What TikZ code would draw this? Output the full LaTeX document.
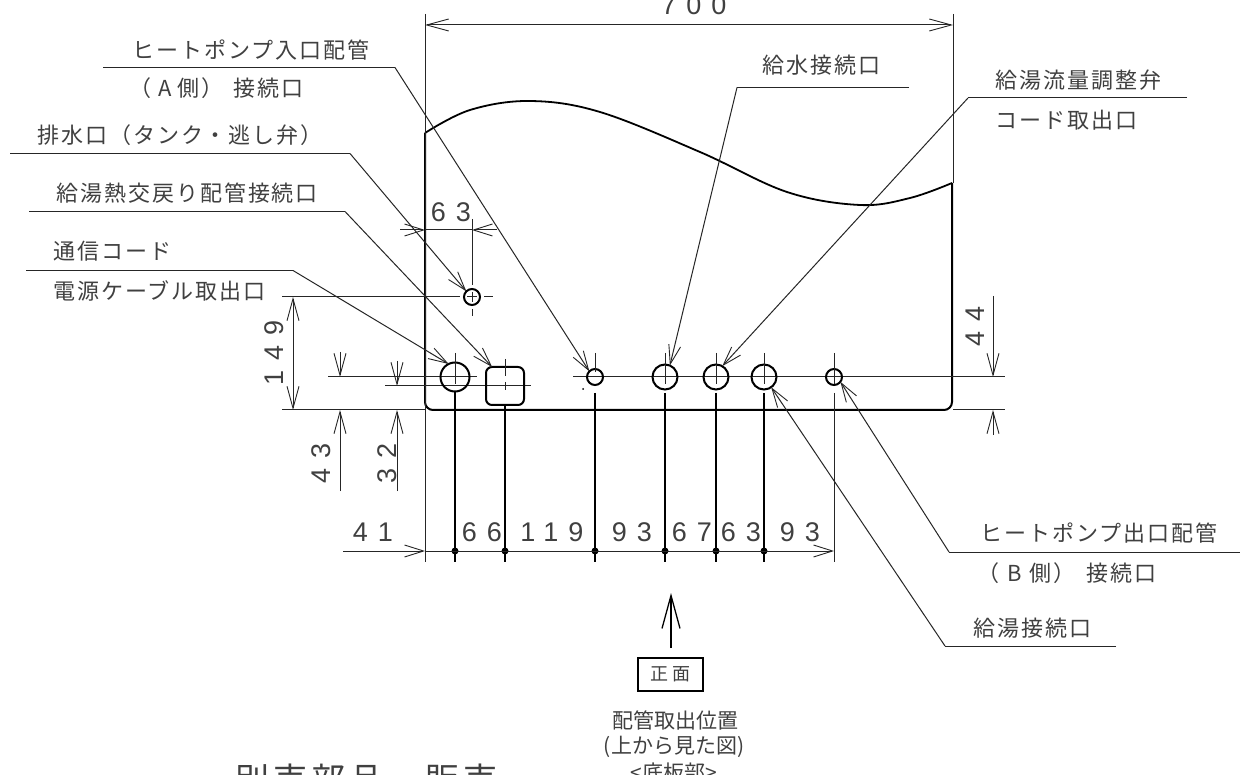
\documentclass[tikz,border=0pt]{standalone}
\usepackage{fontspec}
\usetikzlibrary{arrows.meta}
\newfontfamily\jpfont[LetterSpace=9]{Noto Sans CJK JP}
\newfontfamily\jpplain{Noto Sans CJK JP}
\newfontfamily\jpwide[LetterSpace=12]{Noto Sans CJK JP}
\newfontfamily\dgfont[LetterSpace=37]{Liberation Sans}
\tikzset{
  thin line/.style={line width=1pt,draw=black!85},
  outline/.style={line width=2pt,draw=black},
  leadtip/.style={-{Straight Barb[length=19pt,width=12pt,line width=.9pt]}},
  dimtip/.style={{Straight Barb[length=22pt,width=12pt,line width=.9pt]}-{Straight Barb[length=22pt,width=12pt,line width=.9pt]}},
  jplabel/.style={anchor=mid west,yshift=-6pt,inner sep=0pt,text=black!75,font=\jpfont\fontsize{22}{24}\selectfont},
  num/.style={inner sep=0pt,text=black!75,font=\dgfont\fontsize{27}{27}\selectfont},
  captext/.style={inner sep=0pt,text=black!75,font=\jpplain\fontsize{21}{22}\selectfont},
  hole/.style={circle,outline,inner sep=0pt,outer sep=0pt,minimum size=#1},
  hdot/.style={circle,fill=black,inner sep=0pt,minimum size=7pt}
}
\begin{document}
\begin{tikzpicture}[x=1pt,y=-1pt]
\path[use as bounding box,fill=white] (0,0) rectangle (1240,775);
\clip (0,0) rectangle (1240,775);
% body outline
\draw[outline,rounded corners=8pt] (425,133) -- (425,410) -- (952,410) -- (952,183);
\draw[line width=1.8pt] plot[smooth,tension=.6] coordinates {(425,133) (470,110) (530,101) (600,112) (700,152) (787,192) (860,205) (910,198) (952,183)};
% extension lines
\draw[thin line] (425,14) -- (425,562);
\draw[thin line] (953,14) -- (953,183);
\draw[thin line] (282,297) -- (460,297);
\draw[thin line] (282,410) -- (425,410);
\draw[thin line] (953,410) -- (1005,410);
\draw[thin line] (328,377) -- (477,377);
\draw[thin line] (385,386) -- (531,386);
\draw[thin line] (573,377) -- (1005,377);
% holes
\node[hole=16pt] (drain) at (472,297) {};
\node[hole=29pt] (cable) at (455,377) {};
\node[draw=black,line width=2pt,rounded corners=6pt,minimum size=38pt,inner sep=0pt,outer sep=0pt] (square) at (505,386) {};
\node[hole=16pt] (hpin) at (595,377) {};
\node[hole=25pt] (water) at (665,377) {};
\node[hole=25pt] (flow) at (716,377) {};
\node[hole=25pt] (hot) at (764,377) {};
\node[hole=16pt] (hpout) at (834,377) {};
\fill (583,389) circle (1pt);
% centre marks
\draw[thin line] (467,297) -- (477,297) (472,292) -- (472,302) (484,297) -- (493,297);
\draw[thin line] (472,219) -- (472,285) (472,309) -- (472,316);
\draw[thin line] (505,359) -- (505,376) (501,386) -- (509,386) (505,382) -- (505,390);
\foreach \x/\a/\b in {455/353/384,595/353/372,665/353/384,716/353/384,764/353/384,834/353/384}
  \draw[thin line] (\x,\a) -- (\x,\b);
% drop lines and dots
\draw[thin line] (834,393) -- (834,562);
\foreach \n/\x/\y in {a/455/392,b/505/405,c/595/393,d/665/393,e/716/393,f/764/393}{
  \draw[line width=1.2pt] (\x,\y) -- (\x,562);
  \node[hdot] (d\n) at (\x,551) {};
}
% dimensions
\coordinate (l700) at (425,25); \coordinate (r700) at (953,25);
\draw[thin line,dimtip] (l700) -- (r700);
\coordinate (t149) at (293,297); \coordinate (b149) at (293,410);
\draw[thin line,dimtip] (t149) -- (b149);
\coordinate (a41) at (343,551); \coordinate (b41) at (425,551); \coordinate (c41) at (834,551);
\draw[thin line,leadtip] (a41) -- (b41);
\draw[thin line,leadtip] (b41) -- (c41);
\coordinate (a63) at (400,230); \coordinate (b63) at (425,230); \coordinate (c63) at (497,230); \coordinate (d63) at (472,230);
\draw[thin line,leadtip] (a63) -- (b63);
\draw[thin line,leadtip] (c63) -- (d63);
\draw[thin line] (b63) -- (d63);
\foreach \x/\ttop/\tipy/\low in {340/352/377/491,397/361/386/491,993/296/377/435}{
  \draw[thin line,-{Straight Barb[length=22pt,width=12pt,line width=.9pt]}] (\x,\ttop) -- (\x,\tipy);
  \draw[thin line,-{Straight Barb[length=22pt,width=12pt,line width=.9pt]}] (\x,\low) -- (\x,410);
}
\node[num] (n700) at (694,5) {700};
\node[num] (n63) at (451,212) {63};
\node[num,rotate=90] (n149) at (274,353) {149};
\node[num,rotate=90] (n43) at (321,463) {43};
\node[num,rotate=90] (n32) at (387,463) {32};
\node[num,rotate=90] (n44) at (975,326) {44};
\node[num] (n41) at (373,532) {41};
\node[num] (n66) at (482,532) {66};
\node[num] (n119) at (552,532) {119};
\node[num] (n93a) at (632,532) {93};
\node[num] (n67) at (692,532) {67};
\node[num] (n63b) at (741,532) {63};
\node[num] (n93b) at (800,532) {93};
% leaders
\coordinate (s1a) at (103,67.5); \coordinate (s1b) at (395,67.5);
\draw[thin line] (s1a) -- (s1b);
\draw[thin line,leadtip] (s1b) -- (hpin.135);
\coordinate (s2a) at (10,153.5); \coordinate (s2b) at (350,153.5);
\draw[thin line] (s2a) -- (s2b);
\draw[thin line,leadtip] (s2b) -- (drain.135);
\coordinate (s3a) at (29,211.5); \coordinate (s3b) at (345,211.5);
\draw[thin line] (s3a) -- (s3b);
\draw[thin line,leadtip] (s3b) -- (square.124);
\coordinate (s4a) at (26,270.5); \coordinate (s4b) at (293,270.5);
\draw[thin line] (s4a) -- (s4b);
\draw[thin line,leadtip] (s4b) -- (cable.116);
\coordinate (s5a) at (909,87.5); \coordinate (s5b) at (737,87.5);
\draw[thin line] (s5a) -- (s5b);
\draw[thin line,leadtip] (s5b) -- (water.67);
\coordinate (s6a) at (1187,98) ; \coordinate (s6b) at (968,98);
\draw[thin line] (s6a) -- (s6b);
\draw[thin line,leadtip] (s6b) -- (flow.60);
\coordinate (s7a) at (1240,552); \coordinate (s7b) at (949,552);
\draw[thin line] (s7a) -- (s7b);
\draw[thin line,leadtip] (s7b) -- (hpout.-37);
\coordinate (s8a) at (1116,646); \coordinate (s8b) at (945,646);
\draw[thin line] (s8a) -- (s8b);
\draw[thin line,leadtip] (s8b) -- (hot.-55);
% labels
\node[jplabel] (t1) at (132,50) {ヒートポンプ入口配管};
\node[jplabel] (t2) at (129,88) {（\hspace{7pt}A\hspace{6pt}側）\hspace{10pt}接続口};
\node[jplabel] (t3) at (37,135) {排水口（タンク・逃し弁）};
\node[jplabel] (t4) at (56,193) {給湯熱交戻り配管接続口};
\node[jplabel] (t5) at (53,251) {通信コード};
\node[jplabel] (t6) at (53,291) {電源ケーブル取出口};
\node[jplabel] (t7) at (762,65) {給水接続口};
\node[jplabel] (t8) at (995,80) {給湯流量調整弁};
\node[jplabel] (t9) at (995,120) {コード取出口};
\node[jplabel] (t10) at (980,533) {ヒートポンプ出口配管};
\node[jplabel] (t11) at (977,573) {（\hspace{8pt}B\hspace{8pt}側）\hspace{11pt}接続口};
\node[jplabel] (t12) at (973,628) {給湯接続口};
% front marker
\node[draw=black,line width=1.6pt,minimum width=65pt,minimum height=33pt,inner sep=0pt,text=black!75,font=\jpplain\fontsize{18}{20}\selectfont] (front) at (670.5,674.5) {正\hspace{5pt}面};
\coordinate (fronttop) at (671,593);
\coordinate (frontlow) at (671,648);
\draw[line width=1.3pt,-{Straight Barb[length=33pt,width=18pt,line width=1.3pt]}] (frontlow) -- (fronttop);
\node[captext] (c1) at (675,720) {配管取出位置};
\node[captext] (c2) at (674,747) {(上から見た図)};
\node[captext] (c3) at (674,773) {<底板部>};
\node[inner sep=0pt,anchor=base west,text=black!75,font=\jpwide\fontsize{34}{36}\selectfont] (bottomtext) at (235,792) {別売部品　販売};
\end{tikzpicture}
\end{document}
